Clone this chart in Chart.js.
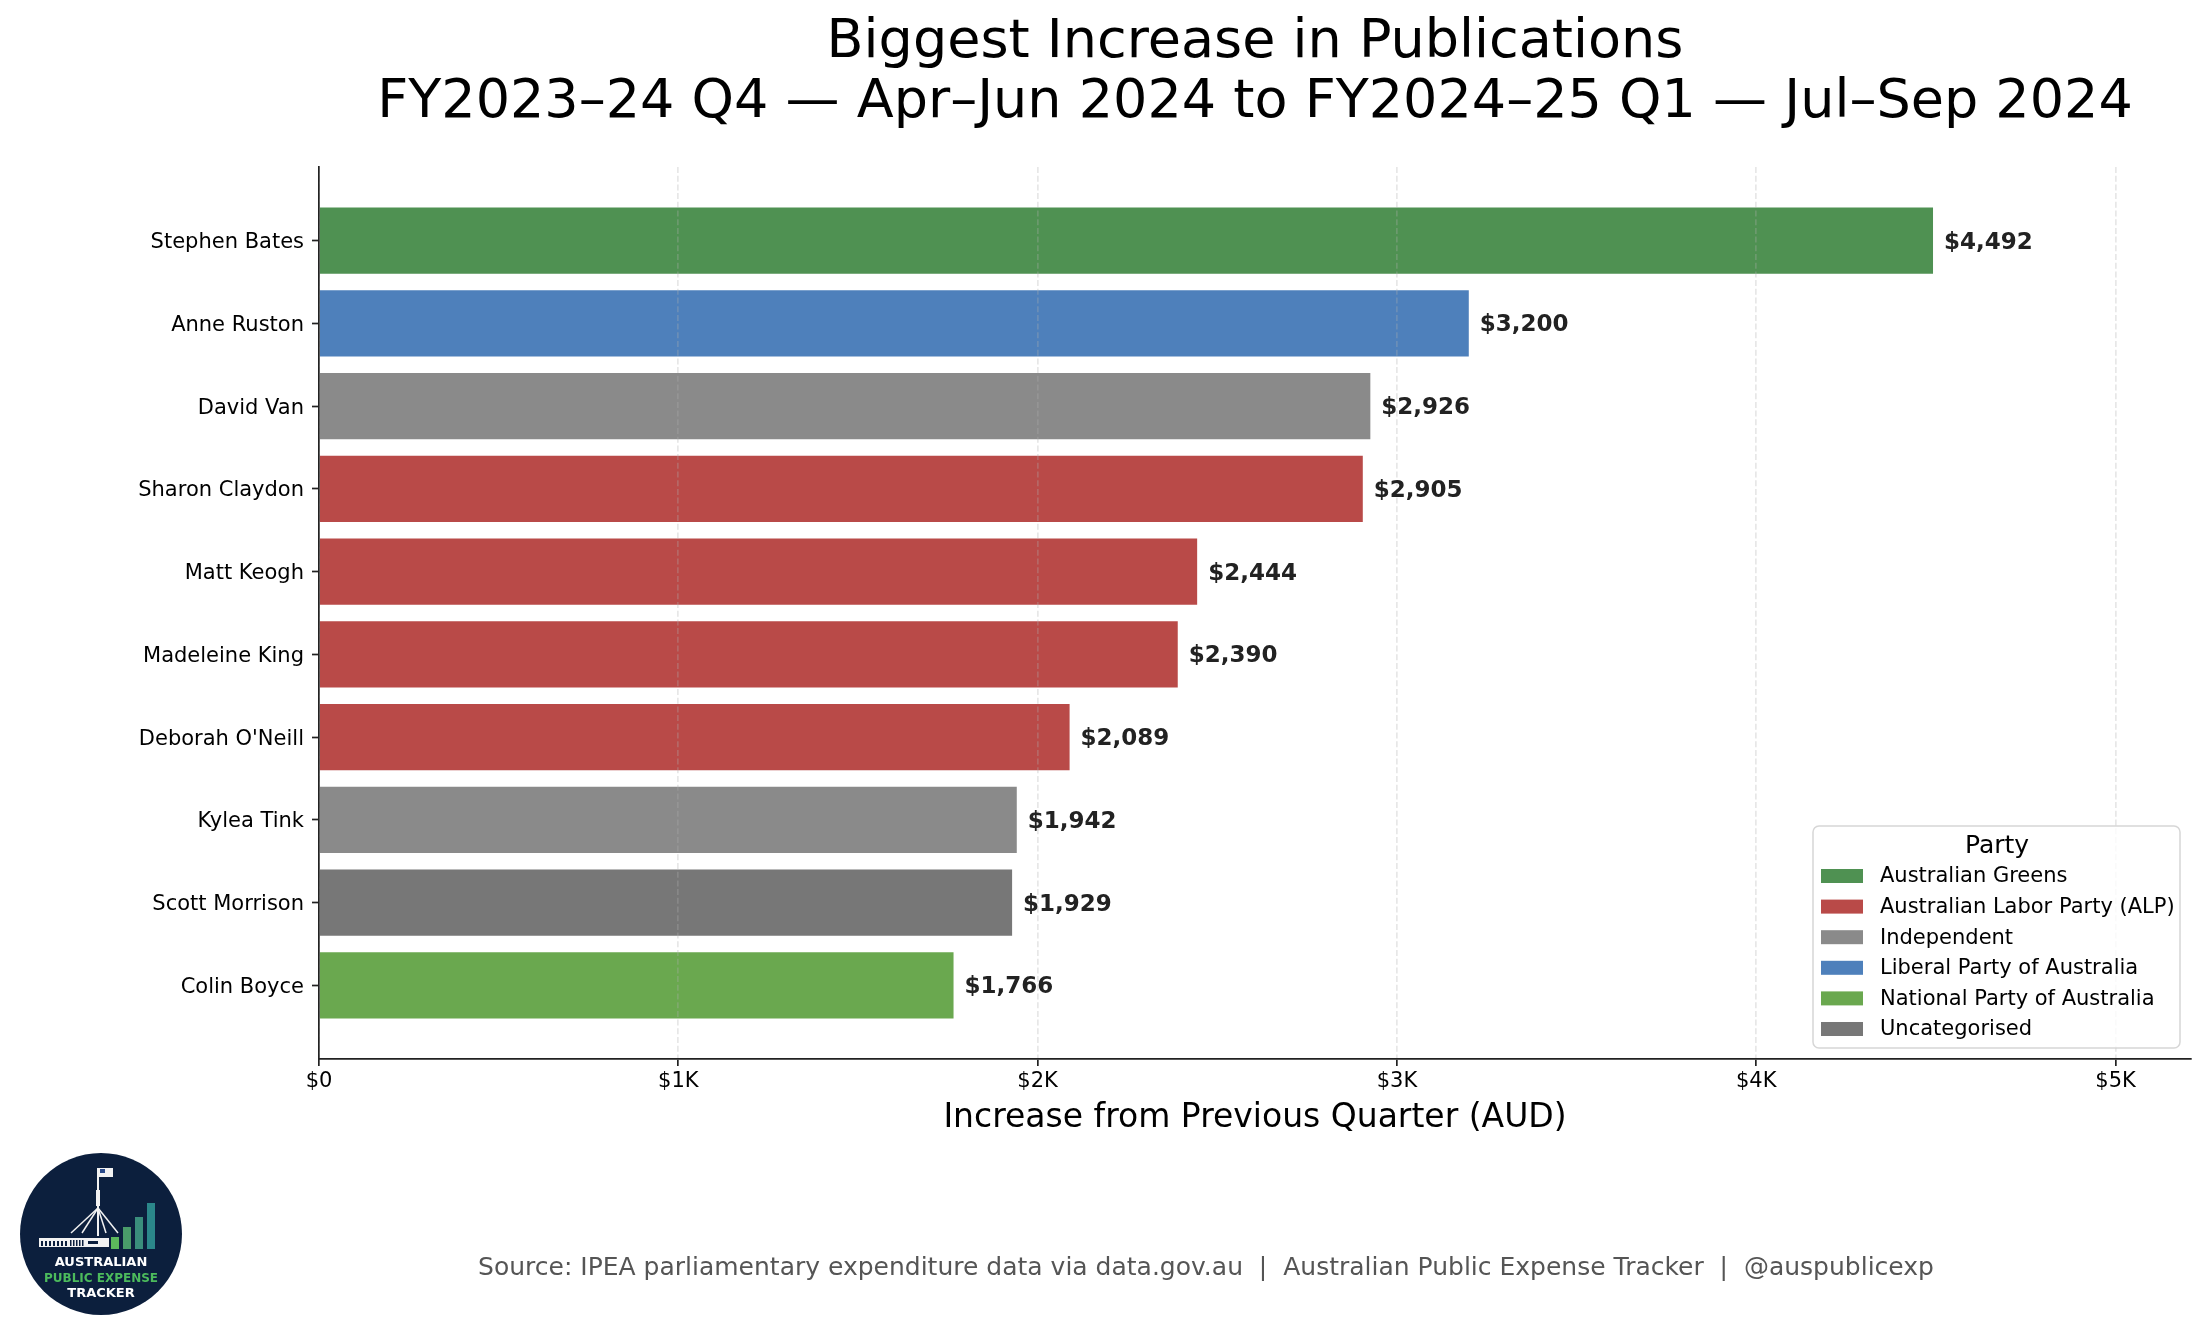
<!DOCTYPE html>
<html>
<head>
<meta charset="utf-8">
<title>Biggest Increase in Publications</title>
<script src="https://cdn.jsdelivr.net/npm/chart.js@4.4.1/dist/chart.umd.min.js"></script>
<style>
  html, body { margin: 0; padding: 0; background: #fff; }
  canvas { display: block; }
</style>
</head>
<body>
<canvas id="myChart" width="2205" height="1337"></canvas>
<script>
// data (top to bottom)
const members = ['Stephen Bates', 'Anne Ruston', 'David Van', 'Sharon Claydon', 'Matt Keogh',
    'Madeleine King', "Deborah O'Neill", 'Kylea Tink', 'Scott Morrison', 'Colin Boyce'];
const increases = [4492, 3200, 2926, 2905, 2444, 2390, 2089, 1942, 1929, 1766];
const memberParty = ['Australian Greens', 'Liberal Party of Australia', 'Independent',
    'Australian Labor Party (ALP)', 'Australian Labor Party (ALP)', 'Australian Labor Party (ALP)',
    'Australian Labor Party (ALP)', 'Independent', 'Uncategorised', 'National Party of Australia'];

const parties = ['Australian Greens', 'Australian Labor Party (ALP)', 'Independent',
    'Liberal Party of Australia', 'National Party of Australia', 'Uncategorised'];
const partyColours = ['#4f9152', '#b94a48', '#8a8a8a', '#4e80bb', '#6aa84f', '#777777'];

const xTicks = [0, 1000, 2000, 3000, 4000, 5000];
const xTickLabels = ['$0', '$1K', '$2K', '$3K', '$4K', '$5K'];

const titleLines = ['Biggest Increase in Publications',
    'FY2023\u201324 Q4 \u2014 Apr\u2013Jun 2024 to FY2024\u201325 Q1 \u2014 Jul\u2013Sep 2024'];
const sourceNote = 'Source: IPEA parliamentary expenditure data via data.gov.au  |  Australian Public Expense Tracker  |  @auspublicexp';

const FONT = "'DejaVu Sans', 'Noto Sans', sans-serif";

function colourFor(party) {
    return partyColours[parties.indexOf(party)];
}

// title, value labels, legend, footer and logo
const extras = {
    id: 'extras',
    afterDraw(chart) {
        const ctx = chart.ctx;
        const area = chart.chartArea;
        const xs = chart.scales.x;
        const ys = chart.scales.y;

        ctx.save();

        // title, centred over the plot
        ctx.fillStyle = '#000';
        ctx.font = '54px ' + FONT;
        ctx.textAlign = 'center';
        ctx.textBaseline = 'alphabetic';
        const cx = (area.left + area.right) / 2;
        ctx.fillText(titleLines[0], cx, 57);
        ctx.fillText(titleLines[1], cx, 117);

        // value labels at the end of each bar
        ctx.font = 'bold 23px ' + FONT;
        ctx.fillStyle = '#222';
        ctx.textAlign = 'left';
        ctx.textBaseline = 'middle';
        increases.forEach((v, i) => {
            const x = xs.getPixelForValue(v) + 11;
            const y = ys.getPixelForValue(i) + 2;
            ctx.fillText('$' + v.toLocaleString('en-US'), x, y);
        });

        // legend box (lower right, inside the plot)
        const lx = 1813, ly = 826, lw = 367, lh = 222;
        ctx.beginPath();
        ctx.roundRect(lx, ly, lw, lh, 6);
        ctx.fillStyle = 'rgba(255,255,255,0.8)';
        ctx.fill();
        ctx.lineWidth = 1.5;
        ctx.strokeStyle = 'rgba(204,204,204,0.8)';
        ctx.stroke();

        ctx.fillStyle = '#000';
        ctx.font = '25px ' + FONT;
        ctx.textAlign = 'center';
        ctx.fillText('Party', lx + 184, 846);
        ctx.font = '21px ' + FONT;
        ctx.textAlign = 'left';
        parties.forEach((p, i) => {
            const y = 876 + i * 30.6;
            ctx.fillStyle = partyColours[i];
            ctx.fillRect(1821, y - 7, 42, 14);
            ctx.fillStyle = '#000';
            ctx.fillText(p, 1880, y + 1);
        });

        // source footer
        ctx.font = '25px ' + FONT;
        ctx.fillStyle = '#555';
        ctx.textAlign = 'center';
        ctx.fillText(sourceNote, 1206, 1268);

        drawLogo(ctx, 101, 1234, 81);
        ctx.restore();
    }
};

function drawLogo(ctx, cx, cy, r) {
    ctx.save();
    ctx.beginPath();
    ctx.arc(cx, cy, r, 0, Math.PI * 2);
    ctx.fillStyle = '#0c1f3d';
    ctx.fill();

    // flagpole and legs
    ctx.strokeStyle = '#f2f2f2';
    ctx.lineWidth = 2;
    ctx.beginPath();
    ctx.moveTo(98, 1168);
    ctx.lineTo(98, 1236);
    ctx.stroke();
    ctx.fillStyle = '#f2f2f2';
    ctx.fillRect(96, 1190, 4, 16);
    ctx.lineWidth = 1.5;
    [[71, 1233], [82, 1233], [106, 1233], [118, 1233]].forEach(([x, y]) => {
        ctx.beginPath();
        ctx.moveTo(98, 1208);
        ctx.lineTo(x, y);
        ctx.stroke();
    });
    // flag
    ctx.fillRect(99, 1168, 14, 9);
    ctx.fillStyle = '#2a4a8a';
    ctx.fillRect(100, 1169, 5, 4);

    // building outline
    ctx.fillStyle = '#f2f2f2';
    ctx.fillRect(39, 1238, 70, 9);
    ctx.fillStyle = '#0c1f3d';
    for (let x = 41; x < 66; x += 4) ctx.fillRect(x, 1241, 2, 5);
    for (let x = 70; x < 84; x += 3) ctx.fillRect(x, 1240, 1.5, 6);
    ctx.fillRect(88, 1241, 10, 3);

    // rising bars
    const bars = [[111, 1237, '#5cb85c'], [123, 1227, '#4a9c6a'], [135, 1217, '#3a8e7c'], [147, 1203, '#2b878a']];
    bars.forEach(([x, top, c]) => {
        ctx.fillStyle = c;
        ctx.fillRect(x, top, 8, 1249 - top);
    });

    // wordmark
    ctx.textAlign = 'center';
    ctx.textBaseline = 'middle';
    ctx.font = 'bold 13px ' + FONT;
    ctx.fillStyle = '#ffffff';
    ctx.fillText('AUSTRALIAN', cx, 1263);
    ctx.font = 'bold 12px ' + FONT;
    ctx.fillStyle = '#4cbb5c';
    ctx.fillText('PUBLIC EXPENSE', cx, 1279);
    ctx.font = 'bold 13px ' + FONT;
    ctx.fillStyle = '#ffffff';
    ctx.fillText('TRACKER', cx, 1294);
    ctx.restore();
}

const ctx = document.getElementById('myChart');

const chart = new Chart(ctx, {
    type: 'bar',
    data: {
        labels: members,
        datasets: [{
            label: 'Increase',
            data: increases.map((v, i) => ({ x: v, y: i })),
            backgroundColor: memberParty.map(colourFor),
            borderWidth: 0,
            barPercentage: 0.8,
            categoryPercentage: 1.0
        }]
    },
    plugins: [extras],
    options: {
        indexAxis: 'y',
        responsive: false,
        animation: false,
        devicePixelRatio: 1,
        layout: {
            padding: { left: 0, right: 14, top: 167, bottom: 188 }
        },
        plugins: {
            legend: { display: false },
            title: { display: false },
            tooltip: { enabled: false }
        },
        scales: {
            x: {
                type: 'linear',
                position: 'bottom',
                min: 0,
                max: 5210,
                offset: false,
                afterBuildTicks: (scale) => { scale.ticks = xTicks.map(v => ({ value: v })); },
                afterFit: (scale) => { scale.height = 90; },
                ticks: {
                    callback: (v, i) => xTickLabels[i],
                    color: '#000',
                    font: { family: FONT, size: 21 },
                    padding: 3,
                    maxRotation: 0
                },
                grid: {
                    z: 1,
                    offset: false,
                    color: 'rgba(176,176,176,0.3)',
                    lineWidth: 1.7,
                    tickLength: 7,
                    tickWidth: 1.7,
                    tickColor: '#222',
                    tickBorderDash: []
                },
                border: { color: '#222', width: 1.7, z: 1, dash: [6, 2.7] },
                title: {
                    display: true,
                    text: 'Increase from Previous Quarter (AUD)',
                    color: '#000',
                    font: { family: FONT, size: 33 },
                    padding: { top: 0, bottom: 11 }
                }
            },
            y: {
                type: 'linear',
                reverse: true,
                min: -0.89,
                max: 9.89,
                offset: false,
                afterBuildTicks: (scale) => { scale.ticks = members.map((_, i) => ({ value: i })); },
                afterFit: (scale) => { scale.width = 319; },
                ticks: {
                    callback: (v) => members[v],
                    color: '#000',
                    font: { family: FONT, size: 21 },
                    padding: 8,
                    labelOffset: 2,
                    autoSkip: false
                },
                grid: {
                    offset: false,
                    drawOnChartArea: false,
                    tickLength: 7,
                    tickWidth: 1.7,
                    tickColor: '#222'
                },
                border: { color: '#222', width: 1.7, z: 1 }
            }
        }
    }
});
</script>
</body>
</html>
